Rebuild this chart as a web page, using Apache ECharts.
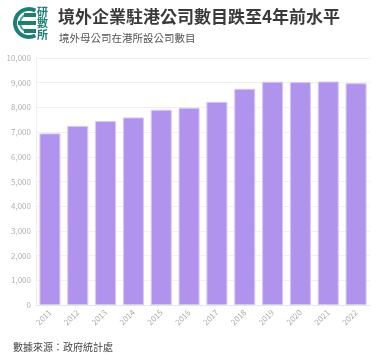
<!DOCTYPE html>
<html>
<head>
<meta charset="utf-8">
<script src="https://cdn.jsdelivr.net/npm/echarts@6/dist/echarts.min.js"></script>
<style>html,body{margin:0;padding:0;background:#fff}#c{width:386px;height:356px}</style>
</head>
<body>
<div id="c"></div>
<script>
const categories = ['2011','2012','2013','2014','2015','2016','2017','2018','2019','2020','2021','2022'];
const values = [6948, 7250, 7449, 7593, 7904, 7986, 8225, 8754, 9040, 9025, 9049, 8978];
const titleText = '境外企業駐港公司數目跌至4年前水平';
const subtitleText = '境外母公司在港所設公司數目';
const sourceText = '數據來源：政府統計處';

const font = '"Noto Sans CJK TC", "Noto Sans", sans-serif';
const chart = echarts.init(document.getElementById('c'), null, {renderer: 'canvas'});
const teal = '#1d7f76';
const teal2 = '#3aa79a';
chart.setOption({
  animation: false,
  textStyle: {fontFamily: font},
  title: [
    {text: titleText, left: 53, top: 3, textStyle: {fontSize: 17, fontWeight: 'bold', color: '#3a3a3a', fontFamily: font}},
    {text: subtitleText, left: 54, top: 28, textStyle: {fontSize: 10.5, fontWeight: 'normal', color: '#555', fontFamily: font}},
    {text: sourceText, left: 8, top: 337, textStyle: {fontSize: 10, fontWeight: 'normal', color: '#444', fontFamily: font}}
  ],
  graphic: {
    elements: [
      {type: 'group', x: 0, y: 0, children: [
        {type: 'arc', x: 29, y: 23, shape: {cx: 0, cy: 0, r: 14, startAngle: 0.35 * Math.PI, endAngle: 1.65 * Math.PI, clockwise: true}, style: {stroke: teal, lineWidth: 4, fill: 'none'}},
        {type: 'arc', x: 29, y: 23, shape: {cx: 0, cy: 0, r: 9, startAngle: 0.4 * Math.PI, endAngle: 1.6 * Math.PI, clockwise: true}, style: {stroke: teal2, lineWidth: 2, fill: 'none'}},
        {type: 'rect', x: 24, y: 13, shape: {x: 0, y: 0, width: 12, height: 4}, style: {fill: teal}},
        {type: 'rect', x: 18, y: 21, shape: {x: 0, y: 0, width: 18, height: 4}, style: {fill: teal}},
        {type: 'rect', x: 24, y: 29, shape: {x: 0, y: 0, width: 12, height: 4}, style: {fill: teal}},
        {type: 'text', x: 37, y: 6, style: {text: '研', fontSize: 11, fontWeight: 'bold', fill: teal, fontFamily: font}},
        {type: 'text', x: 37, y: 17.5, style: {text: '數', fontSize: 11, fontWeight: 'bold', fill: teal, fontFamily: font}},
        {type: 'text', x: 37, y: 29, style: {text: '所', fontSize: 11, fontWeight: 'bold', fill: teal, fontFamily: font}}
      ]}
    ]
  },
  grid: {left: 36, right: 16, top: 58, bottom: 51, containLabel: false},
  xAxis: {
    type: 'category',
    data: categories,
    axisLine: {lineStyle: {color: '#e6e6e6'}},
    axisTick: {alignWithLabel: true, lineStyle: {color: '#e6e6e6'}},
    axisLabel: {rotate: 45, fontSize: 8, color: '#aaa', margin: 6}
  },
  yAxis: {
    type: 'value',
    min: 0, max: 10000, interval: 1000,
    axisLine: {show: true, lineStyle: {color: '#eeeeee'}},
    axisTick: {show: false},
    splitLine: {lineStyle: {color: '#f0f0f0'}},
    axisLabel: {fontSize: 8, color: '#b0b0b0', margin: 5,
      formatter: v => v.toLocaleString('en-US')}
  },
  series: [{
    type: 'bar',
    data: values,
    barWidth: 21,
    itemStyle: {color: '#b093ec', borderColor: '#d6c8f6', borderWidth: 1}
  }]
});
</script>
</body>
</html>
